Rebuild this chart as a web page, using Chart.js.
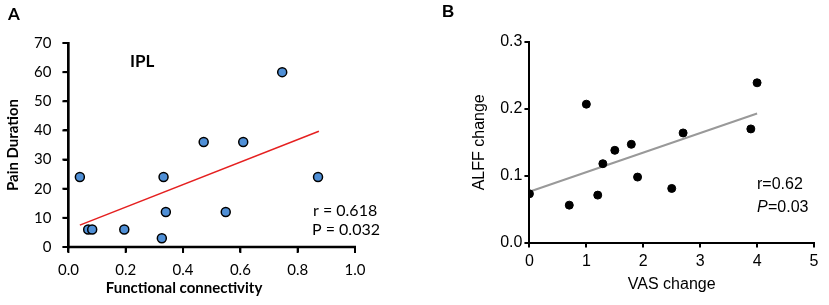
<!DOCTYPE html>
<html>
<head>
<meta charset="utf-8">
<script src="https://cdn.jsdelivr.net/npm/chart.js@4.4.1/dist/chart.umd.min.js"></script>
<style>
  body { margin: 0; background: #fff; }
  .panel { position: absolute; top: 0; height: 305px; }
  #panelA { left: 0; width: 420px; }
  #panelB { left: 420px; width: 409px; }
</style>
</head>
<body>
<div class="panel" id="panelA"><canvas id="chartA"></canvas></div>
<div class="panel" id="panelB"><canvas id="chartB"></canvas></div>
<script>
// Panel A: IPL functional connectivity vs pain duration
const connectivity = [0.04, 0.069, 0.083, 0.195, 0.326, 0.332, 0.34, 0.472, 0.549, 0.61, 0.746, 0.871];
const painDuration = [24, 6, 6, 6, 3, 24, 12, 36, 12, 36, 60, 24];
const fitA_x = [0.04, 0.874];
const fitA_y = [7.5, 39.7];

// Panel B: VAS change vs ALFF change
const vasChange = [0, 0.7, 1.0, 1.2, 1.29, 1.5, 1.79, 1.9, 2.5, 2.7, 3.89, 4.0];
const alffChange = [0.073, 0.056, 0.207, 0.071, 0.118, 0.138, 0.147, 0.098, 0.081, 0.164, 0.170, 0.239];
const fitB_x = [0.01, 4.0];
const fitB_y = [0.0764, 0.193];

const fontA = 'Lato, "Open Sans", sans-serif';
const fontB = '"Liberation Sans", Arial, sans-serif';

function pts(xs, ys) {
    return xs.map((x, i) => ({ x: x, y: ys[i] }));
}

// draws free text (panel letters, stats, custom axis title)
const notes = {
    id: 'notes',
    afterDraw(chart, args, opts) {
        const ctx = chart.ctx;
        ctx.save();
        ctx.fillStyle = '#000';
        ctx.textBaseline = 'middle';
        opts.items.forEach(t => {
            ctx.font = t.font;
            ctx.textAlign = t.align || 'left';
            ctx.fillText(t.text, t.x, t.y);
        });
        ctx.restore();
    }
};

// axis lines + outward tick marks placed with the scales' own pixel mapping
const axisLines = {
    id: 'axisLines',
    afterDraw(chart) {
        const ctx = chart.ctx;
        const xs = chart.scales.x, ys = chart.scales.y;
        const left = xs.getPixelForValue(xs.min);
        const right = xs.getPixelForValue(xs.max);
        const bottom = ys.getPixelForValue(ys.min);
        const top = ys.getPixelForValue(ys.max);
        ctx.save();
        ctx.fillStyle = '#000';
        ctx.fillRect(left - 1.25, top - 1, 2.5, bottom - top + 2.25);
        ctx.fillRect(left - 1.25, bottom - 1.25, right - left + 2.25, 2.5);
        xs.ticks.forEach(t => {
            const px = xs.getPixelForValue(t.value);
            ctx.fillRect(px - 1, bottom, 2, 6);
        });
        ys.ticks.forEach(t => {
            const py = ys.getPixelForValue(t.value);
            ctx.fillRect(left - 6, py - 1, 6, 2);
        });
        ctx.restore();
    }
};

new Chart(document.getElementById('chartA'), {
    type: 'scatter',
    data: {
        datasets: [{
            data: pts(connectivity, painDuration),
            backgroundColor: '#4f8fd6',
            borderColor: '#000',
            pointBorderWidth: 1.5,
            pointRadius: 4.5
        }, {
            data: pts(fitA_x, fitA_y),
            showLine: true,
            borderColor: '#e52020',
            borderWidth: 1.5,
            pointRadius: 0
        }]
    },
    options: {
        responsive: true,
        maintainAspectRatio: false,
        animation: false,
        layout: { padding: { top: 43, right: 65, left: 4, bottom: 17 } },
        plugins: {
            legend: { display: false },
            tooltip: { enabled: false },
            notes: {
                items: [
                    { text: 'A', x: 8, y: 15, font: 'bold 17px ' + fontA },
                    { text: 'IPL', x: 130, y: 62, font: 'bold 17px ' + fontA },
                    { text: 'r = 0.618', x: 313, y: 211, font: '16px ' + fontA },
                    { text: 'P = 0.032', x: 312, y: 230, font: '16px ' + fontA },
                    { text: 'Functional connectivity', x: 184, y: 288, align: 'center', font: 'bold 15px ' + fontA }
                ]
            }
        },
        scales: {
            x: {
                type: 'linear',
                min: 0, max: 1,
                ticks: { stepSize: 0.2, color: '#000', font: { size: 15, family: fontA }, padding: 9,
                         callback: v => v.toFixed(1) },
                grid: { drawOnChartArea: false, color: '#000', lineWidth: 2, tickLength: 5 },
                border: { display: true, color: '#000', width: 2 }
            },
            y: {
                min: 0, max: 70,
                ticks: { stepSize: 10, color: '#000', font: { size: 15, family: fontA }, padding: 12 },
                grid: { drawOnChartArea: false, color: '#000', lineWidth: 2, tickLength: 5 },
                border: { display: true, color: '#000', width: 2 },
                title: { display: true, text: 'Pain Duration', color: '#000',
                         font: { size: 15, weight: 'bold', family: fontA }, padding: { top: 0, bottom: 0 } }
            }
        }
    },
    plugins: [notes, axisLines]
});

new Chart(document.getElementById('chartB'), {
    type: 'scatter',
    data: {
        datasets: [{
            data: pts(vasChange, alffChange),
            backgroundColor: '#000',
            borderColor: '#000',
            pointRadius: 4
        }, {
            data: pts(fitB_x, fitB_y),
            showLine: true,
            borderColor: '#999',
            borderWidth: 2,
            pointRadius: 0
        }]
    },
    options: {
        responsive: true,
        maintainAspectRatio: false,
        animation: false,
        layout: { padding: { top: 42, right: 15, left: 50, bottom: 7 } },
        plugins: {
            legend: { display: false },
            tooltip: { enabled: false },
            notes: {
                items: [
                    { text: 'B', x: 22, y: 12, font: 'bold 17px ' + fontB },
                    { text: 'r=0.62', x: 337, y: 185, font: '16px ' + fontB },
                    { text: 'P', x: 337, y: 208, font: 'italic 16px ' + fontB },
                    { text: '=0.03', x: 348, y: 208, font: '16px ' + fontB }
                ]
            }
        },
        scales: {
            x: {
                type: 'linear',
                min: 0, max: 5,
                ticks: { stepSize: 1, color: '#000', font: { size: 16, family: fontB }, padding: 4 },
                grid: { drawOnChartArea: false, color: '#000', lineWidth: 2, tickLength: 5 },
                border: { display: true, color: '#000', width: 2 },
                title: { display: true, text: 'VAS change', color: '#000',
                         font: { size: 16, family: fontB }, padding: { top: 0 } }
            },
            y: {
                min: 0, max: 0.3,
                ticks: { stepSize: 0.1, color: '#000', font: { size: 16, family: fontB }, padding: 2,
                         callback: v => v.toFixed(1) },
                grid: { drawOnChartArea: false, color: '#000', lineWidth: 2, tickLength: 5 },
                border: { display: true, color: '#000', width: 2 },
                title: { display: true, text: 'ALFF change', color: '#000',
                         font: { size: 16, family: fontB }, padding: { top: 0, bottom: 9 } }
            }
        }
    },
    plugins: [notes]
});
</script>
</body>
</html>
